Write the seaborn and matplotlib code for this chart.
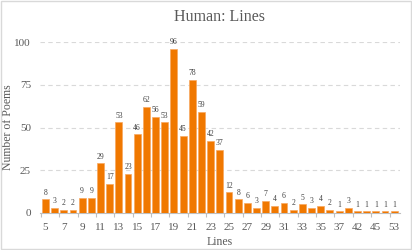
import matplotlib
matplotlib.use('Agg')
import matplotlib.pyplot as plt
import seaborn as sns
import pandas as pd
import numpy as np

# Lines per poem and how many poems had that length
lines = [5, 6, 7, 8, 9, 10, 11, 12, 13, 14, 15, 16, 17, 18, 19, 20, 21, 22,
         23, 24, 25, 26, 27, 28, 29, 30, 31, 32, 33, 34, 35, 36, 37, 38,
         42, 44, 45, 50, 53]
counts = [8, 3, 2, 2, 9, 9, 29, 17, 53, 23, 46, 62, 56, 53, 96, 45, 78, 59,
          42, 37, 12, 8, 6, 3, 7, 4, 6, 2, 5, 3, 4, 2, 1, 3,
          1, 1, 1, 1, 1]
tick_labels = ['5', '7', '9', '11', '13', '15', '17', '19', '21', '23', '25',
               '27', '29', '31', '33', '35', '37', '42', '45', '53']

df = pd.DataFrame({'lines': [str(v) for v in lines], 'count': counts})

sns.set_theme(style="white")
plt.rcParams['font.family'] = ['Liberation Serif', 'DejaVu Serif']

text_grey = '#595959'
orange = '#F07800'

fig, ax = plt.subplots(figsize=(4.12, 2.5), dpi=100)
fig.subplots_adjust(left=0.097, right=0.97, top=0.832, bottom=0.148)

sns.barplot(data=df, x='lines', y='count', color=orange, saturation=1,
            width=0.75, edgecolor='#F7A860', linewidth=0.5, ax=ax, zorder=3)

for p, v in zip(ax.patches, counts):
    ax.annotate(str(v), (p.get_x() + p.get_width() / 2, p.get_height()),
                ha='center', va='bottom', xytext=(0, 2), textcoords='offset points',
                fontsize=5.5, color='#404040')

ax.set_ylim(0, 100)
ax.set_yticks([0, 25, 50, 75, 100])
ax.set_xlim(-0.6, len(lines) - 0.4)
ax.yaxis.grid(True, linestyle=(0, (4, 3)), color='#d9d9d9', linewidth=0.8, zorder=0)
ax.set_axisbelow(True)

ax.set_xticks(np.arange(0, len(lines), 2))
ax.set_xticklabels(tick_labels)
ax.set_xticks(np.arange(-0.5, len(lines), 2), minor=True)
ax.tick_params(axis='x', which='major', length=0, labelsize=8, colors=text_grey, pad=7)
ax.tick_params(axis='x', which='minor', length=3, color='#bfbfbf', width=0.8, bottom=True)
ax.tick_params(axis='y', length=0, labelsize=8, colors=text_grey, pad=6.5)

for s in ['top', 'right', 'left']:
    ax.spines[s].set_visible(False)
ax.spines['bottom'].set_color('#bfbfbf')
ax.spines['bottom'].set_linewidth(0.8)

ax.set_title('Human: Lines', fontsize=11.5, color=text_grey, pad=15)
ax.set_xlabel('Lines', fontsize=8.5, color=text_grey, labelpad=3)
ax.set_ylabel('Number of Poems', fontsize=8.5, color=text_grey)
ax.yaxis.set_label_coords(-0.072, 0.5)

fig.patches.append(plt.Rectangle((0.002, 0.003), 0.995, 0.993, transform=fig.transFigure,
                                 fill=False, edgecolor='#d9d9d9', linewidth=1))

fig.savefig('out.png', dpi=100)
plt.close(fig)
